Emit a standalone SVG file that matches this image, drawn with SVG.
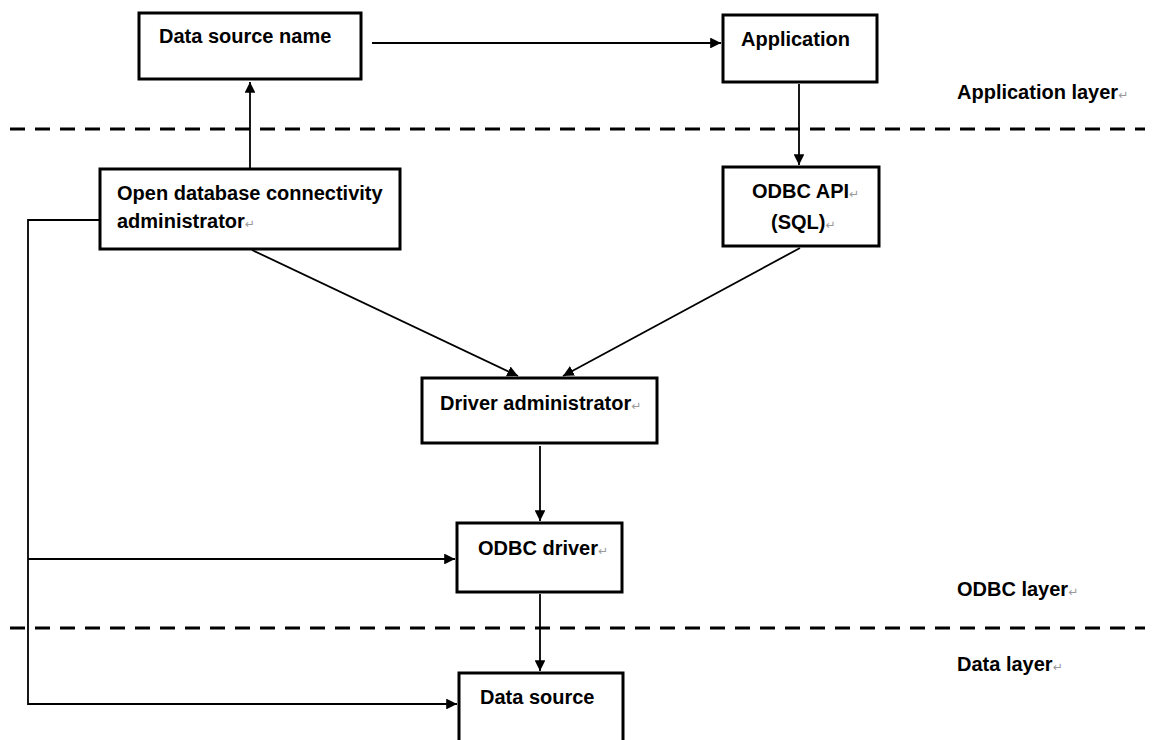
<svg xmlns="http://www.w3.org/2000/svg" width="1153" height="740" viewBox="0 0 1153 740">
<style>
.box{fill:#fff;stroke:#000;stroke-width:3}
.t{font-family:"Liberation Sans",Arial,sans-serif;font-weight:bold;font-size:20px;fill:#000}
.pm{font-family:"DejaVu Sans",sans-serif;font-weight:normal;font-size:12px;fill:#999}
.c{fill:none;stroke:#000;stroke-width:1.8}
.dash{fill:none;stroke:#000;stroke-width:3;stroke-dasharray:15 10}
</style>
<defs>
<marker id="ah" viewBox="0 0 10 10" refX="10" refY="5" markerWidth="6" markerHeight="6" orient="auto" markerUnits="strokeWidth">
<path d="M0,0 L10,5 L0,10 z" fill="#000"/>
</marker>
</defs>
<rect width="1153" height="740" fill="#fff"/>
<g id="layers">
<line class="dash" x1="10" y1="129" x2="1145" y2="129"/>
<line class="dash" x1="10" y1="628" x2="1145" y2="628"/>
<text class="t" x="957" y="99">Application layer<tspan class="pm">↵</tspan></text>
<text class="t" x="957" y="596">ODBC layer<tspan class="pm">↵</tspan></text>
<text class="t" x="957" y="671">Data layer<tspan class="pm">↵</tspan></text>
</g>
<g id="connectors">
<line class="c" x1="250" y1="168" x2="250" y2="82" marker-end="url(#ah)"/>
<line class="c" x1="372" y1="43" x2="721" y2="43" marker-end="url(#ah)"/>
<line class="c" x1="799" y1="84" x2="799" y2="165" marker-end="url(#ah)"/>
<line class="c" x1="252" y1="250" x2="518" y2="376" marker-end="url(#ah)"/>
<line class="c" x1="800" y1="248" x2="563" y2="376" marker-end="url(#ah)"/>
<line class="c" x1="540" y1="446" x2="540" y2="521" marker-end="url(#ah)"/>
<line class="c" x1="540" y1="594" x2="540" y2="671" marker-end="url(#ah)"/>
<polyline class="c" points="99,220 28,220 28,704 457,704" marker-end="url(#ah)"/>
<line class="c" x1="28" y1="559" x2="455" y2="559" marker-end="url(#ah)"/>
</g>
<g id="dsn">
<rect class="box" x="139" y="13" width="222" height="66"/>
<text class="t" x="159" y="43">Data source name</text>
</g>
<g id="application">
<rect class="box" x="723" y="15" width="154" height="67"/>
<text class="t" x="741" y="46">Application</text>
</g>
<g id="odbc-admin">
<rect class="box" x="100" y="169" width="300" height="80"/>
<text class="t" x="117" y="200">Open database connectivity</text>
<text class="t" x="117" y="228">administrator<tspan class="pm">↵</tspan></text>
</g>
<g id="odbc-api">
<rect class="box" x="723" y="167" width="156" height="79"/>
<text class="t" x="752" y="198">ODBC API<tspan class="pm">↵</tspan></text>
<text class="t" x="771" y="229">(SQL)<tspan class="pm">↵</tspan></text>
</g>
<g id="driver-admin">
<rect class="box" x="422" y="378" width="235" height="65"/>
<text class="t" x="440" y="410">Driver administrator<tspan class="pm">↵</tspan></text>
</g>
<g id="odbc-driver">
<rect class="box" x="457" y="523" width="165" height="69"/>
<text class="t" x="478" y="555">ODBC driver<tspan class="pm">↵</tspan></text>
</g>
<g id="data-source">
<rect class="box" x="459" y="673" width="164" height="70"/>
<text class="t" x="480" y="704">Data source</text>
</g>
</svg>
